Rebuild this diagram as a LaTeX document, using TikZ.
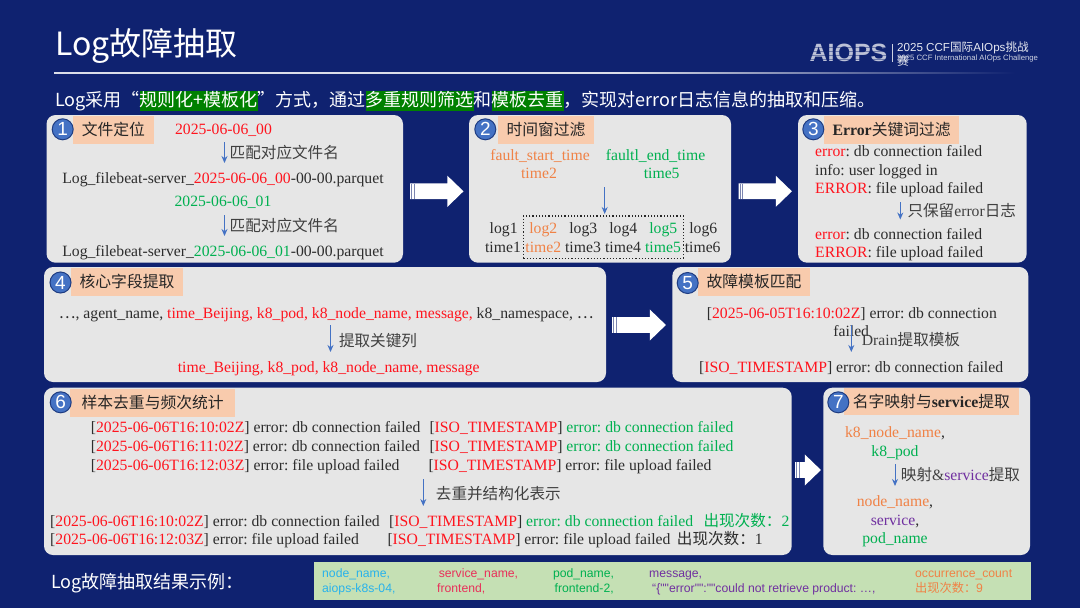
\documentclass[tikz,border=0pt]{standalone}
\usepackage{fontspec}
\setmainfont{Liberation Serif}
\newfontfamily\cjk{Noto Sans CJK SC}
\newfontfamily\uisans{Liberation Sans}
\usetikzlibrary{shapes.arrows,calc,arrows.meta}
\definecolor{bgblue}{RGB}{15,34,112}
\definecolor{panelgray}{RGB}{230,230,230}
\definecolor{tagorange}{RGB}{248,203,173}
\definecolor{badgeblue}{RGB}{68,114,196}
\definecolor{badgeline}{RGB}{30,60,130}
\definecolor{hlgreen}{RGB}{0,128,0}
\definecolor{ink}{RGB}{45,45,45}
\definecolor{rd}{RGB}{255,20,30}
\definecolor{gn}{RGB}{0,176,80}
\definecolor{og}{RGB}{240,130,70}
\definecolor{pp}{RGB}{112,48,160}
\definecolor{cy}{RGB}{40,178,235}
\definecolor{cr}{RGB}{232,48,90}
\definecolor{resgreen}{RGB}{197,224,180}
\newcommand\rd[1]{\textcolor{rd}{#1}}
\newcommand\gn[1]{\textcolor{gn}{#1}}
\newcommand\og[1]{\textcolor{og}{#1}}
\newcommand\pp[1]{\textcolor{pp}{#1}}
\newcommand\hlg[1]{\begingroup\fboxsep=0pt\colorbox{hlgreen}{\rule[-4.5pt]{0pt}{20pt}#1}\endgroup}
\tikzset{
  x=1pt,y=-1pt,
  panel/.style={fill=panelgray,rounded corners=9pt,inner sep=0,draw=none},
  tag/.style={fill=tagorange,inner sep=0,text=black!85,font=\fontsize{15.8}{18}\selectfont\cjk},
  badge/.style={circle,fill=badgeblue,draw=badgeline,line width=1pt,minimum size=21pt,inner sep=0,text=white,font=\fontsize{19}{20}\selectfont\uisans},
  txt/.style={inner sep=0,text=ink,font=\fontsize{15.7}{18}\selectfont,text height=11pt,text depth=1pt},
  zh/.style={txt,font=\fontsize{15.6}{18}\selectfont\cjk,text=black!75},
  res/.style={inner sep=0,anchor=west,font=\fontsize{12.2}{14}\selectfont\uisans,text height=10pt,text depth=1pt},
  flow/.style={draw=badgeblue,line width=1pt,-{Stealth[length=7pt,width=6pt]}},
  bigarrow/.style={single arrow,fill=white,inner sep=0,anchor=tail,text height=15.4pt,text depth=0pt,text width=1pt,single arrow head extend=7.7pt,single arrow head indent=0pt,single arrow tip angle=88},
  stripe/.style={draw=bgblue!55!white,line width=.9pt},
  dotbox/.style={draw=black!85,line width=1.2pt,dotted,fill=none,inner sep=0}
}
\begin{document}
\frenchspacing
\begin{tikzpicture}
\path[use as bounding box,fill=bgblue] (0,0) rectangle (1080,608);
% header
\node[inner sep=0,anchor=west,text=white,font=\fontsize{32}{36}\selectfont\cjk] (title) at (55,46) {Log故障抽取};
\fill[white!85!bgblue] (53.5,72.2) rectangle (620,73.6);
\fill[left color=white!85!bgblue,right color=bgblue] (620,72.2) rectangle (1015,73.6);
\node[inner sep=0,text=white!72!bgblue,font=\fontsize{25}{28}\selectfont\uisans\bfseries] (aiops) at (848.5,52.5) {AIOPS};
\foreach \yy in {47.5,51.5,55.5,59.5} {\draw[bgblue,opacity=.45,line width=.8pt] (809,\yy) -- (888,\yy);}
\fill[white!80!bgblue] (891.6,43.5) rectangle (892.6,62);
\node[inner sep=0,anchor=west,text=white!90!bgblue,font=\fontsize{11.6}{14}\selectfont\uisans] (logoa) at (897,47.5) {2025 CCF{\cjk 国际}AIOps{\cjk 挑战}};
\node[inner sep=0,anchor=west,text=white!80!bgblue,font=\fontsize{7.75}{9}\selectfont\uisans] (logob) at (897,58.5) {2025 CCF International AIOps Challenge};
\node[inner sep=0,anchor=west,text=white!90!bgblue,font=\fontsize{11.8}{14}\selectfont\cjk] (logoc) at (897,60.5) {赛};
\node[inner sep=0,anchor=west,text=white,font=\fontsize{18}{20}\selectfont\cjk] (intro) at (55,101) {Log采用“\hlg{规则化+模板化}”方式，通过\hlg{多重规则筛选}和\hlg{模板去重}，实现对error日志信息的抽取和压缩。};

% panels
\node[panel,minimum width=356.5pt,minimum height=147.7pt] (p1) at (224.75,188.85) {};
\node[panel,minimum width=262pt,minimum height=147.7pt] (p2) at (600,188.85) {};
\node[panel,minimum width=228.7pt,minimum height=147.7pt] (p3) at (912.35,188.85) {};
\node[panel,minimum width=562pt,minimum height=115pt] (p4) at (325,324.5) {};
\node[panel,minimum width=356pt,minimum height=115pt] (p5) at (850.3,324.5) {};
\node[panel,minimum width=747.7pt,minimum height=167.3pt] (p6) at (417.85,471.35) {};
\node[panel,minimum width=206.7pt,minimum height=167.3pt] (p7) at (926.65,471.35) {};

% big arrows
\node[bigarrow,minimum height=53.3pt] (a12) at (410,191.3) {};
\node[bigarrow,minimum height=53.4pt] (a23) at (738.3,191.3) {};
\node[bigarrow,minimum height=53.7pt] (a45) at (612,325) {};
\node[bigarrow,minimum height=25.7pt] (a67) at (795,470) {};
\foreach \a in {a12,a23,a45,a67} {
  \draw[stripe] ($(\a.tail)+(1.9,-7.7)$) -- ($(\a.tail)+(1.9,7.7)$);
  \draw[stripe] ($(\a.tail)+(4.6,-7.7)$) -- ($(\a.tail)+(4.6,7.7)$);
}

% tags + badges
\node[tag,minimum width=80.7pt,minimum height=27.7pt] (t1) at (113.35,129.85) {文件定位};
\node[badge] (b1) at (62.7,129.3) {1};
\node[tag,minimum width=96pt,minimum height=27.7pt] (t2) at (546,129.85) {时间窗过滤};
\node[badge] (b2) at (485.3,129.3) {2};
\node[tag,minimum width=135.3pt,minimum height=27.7pt] (t3) at (891.65,129.85) {{\fontsize{15.8}{18}\selectfont\rmfamily\bfseries Error}关键词过滤};
\node[badge] (b3) at (813.3,129.3) {3};
\node[tag,minimum width=112pt,minimum height=27.7pt] (t4) at (127,281.85) {核心字段提取};
\node[badge] (b4) at (60.5,282.5) {4};
\node[tag,minimum width=112pt,minimum height=27.7pt] (t5) at (754,281.85) {故障模板匹配};
\node[badge] (b5) at (687.7,283) {5};
\node[tag,minimum width=164.7pt,minimum height=27.7pt] (t6) at (152.65,402.85) {样本去重与频次统计};
\node[badge] (b6) at (60.7,402.3) {6};
\node[tag,minimum width=174.7pt,minimum height=27.3pt] (t7) at (931.35,401.65) {名字映射与{\fontsize{15.8}{18}\selectfont\rmfamily\bfseries service}提取};
\node[badge] (b7) at (838.3,402.3) {7};

% panel 1
\node[txt] (d1) at (223.5,129) {\rd{2025-06-06\_00}};
\coordinate (f1s) at (224.5,142); \coordinate (f1e) at (224.5,163);
\draw[flow] (f1s) -- (f1e);
\node[zh,anchor=west] (m1) at (229.5,153) {匹配对应文件名};
\node[txt] (file1) at (223,178) {Log\_filebeat-server\_\rd{2025-06-06\_00}-00-00.parquet};
\node[txt] (d2) at (223,201) {\gn{2025-06-06\_01}};
\coordinate (f2s) at (224.5,215); \coordinate (f2e) at (224.5,236);
\draw[flow] (f2s) -- (f2e);
\node[zh,anchor=west] (m2) at (229.5,226) {匹配对应文件名};
\node[txt] (file2) at (223,251) {Log\_filebeat-server\_\gn{2025-06-06\_01}-00-00.parquet};

% panel 2
\node[txt] (fs) at (540,155) {\og{fault\_start\_time}};
\node[txt] (ts) at (539,173.5) {\og{time2}};
\node[txt] (fe) at (655.5,155) {\gn{faultl\_end\_time}};
\node[txt] (te) at (661.7,173.5) {\gn{time5}};
\coordinate (f3s) at (604.7,187); \coordinate (f3e) at (604.7,214);
\draw[flow] (f3s) -- (f3e);
\node[dotbox,minimum width=160pt,minimum height=42.3pt] (win) at (603.3,237.15) {};
\node[txt] (l1) at (503.7,228) {log1};
\node[txt] (l2) at (543.3,228) {\og{log2}};
\node[txt] (l3) at (583.3,228) {log3};
\node[txt] (l4) at (623.3,228) {log4};
\node[txt] (l5) at (663.3,228) {\gn{log5}};
\node[txt] (l6) at (703.3,228) {log6};
\node[txt] (tt1) at (503,247) {time1};
\node[txt] (tt2) at (543.3,247) {\og{time2}};
\node[txt] (tt3) at (583,247) {time3};
\node[txt] (tt4) at (623,247) {time4};
\node[txt] (tt5) at (663,247) {\gn{time5}};
\node[txt] (tt6) at (702.7,247) {time6};

% panel 3
\node[txt,anchor=west] (e1) at (815,151) {\rd{error}: db connection failed};
\node[txt,anchor=west] (e2) at (815,170) {info: user logged in};
\node[txt,anchor=west] (e3) at (815,188.5) {\rd{ERROR}: file upload failed};
\coordinate (f4s) at (900.3,202); \coordinate (f4e) at (900.3,219.5);
\draw[flow] (f4s) -- (f4e);
\node[zh,anchor=west] (m3) at (907.3,211) {只保留{\fontsize{15.7}{18}\selectfont\rmfamily error}日志};
\node[txt,anchor=west] (e4) at (815,234) {\rd{error}: db connection failed};
\node[txt,anchor=west] (e5) at (815,252.5) {\rd{ERROR}: file upload failed};

% panel 4
\node[txt] (c1) at (326.3,313) {{\cjk …}, agent\_name, \rd{time\_Beijing, k8\_pod, k8\_node\_name, message,} k8\_namespace, {\cjk …}};
\coordinate (f5s) at (330.5,325.3); \coordinate (f5e) at (330.5,352);
\draw[flow] (f5s) -- (f5e);
\node[zh,anchor=west] (m4) at (338.8,341) {提取关键列};
\node[txt] (c2) at (328.7,367) {\rd{time\_Beijing, k8\_pod, k8\_node\_name, message}};

% panel 5
\node[txt,anchor=west] (g1) at (706.7,313) {[\rd{2025-06-05T16:10:02Z}] error: db connection};
\node[txt] (g2) at (851.2,331) {failed};
\coordinate (f6s) at (851.3,325); \coordinate (f6e) at (851.3,352);
\draw[flow] (f6s) -- (f6e);
\node[zh,anchor=west] (m5) at (861.7,340) {{\fontsize{15.7}{18}\selectfont\rmfamily Drain}提取模板};
\node[txt,anchor=west] (g3) at (699,367) {[\rd{ISO\_TIMESTAMP}] error: db connection failed};

% panel 6
\node[txt,anchor=west] (s1) at (90.7,427.7) {[\rd{2025-06-06T16:10:02Z}] error: db connection failed};
\node[txt,anchor=west] (s1b) at (429.3,427.7) {[\rd{ISO\_TIMESTAMP}] \gn{error: db connection failed}};
\node[txt,anchor=west] (s2) at (90.7,446.7) {[\rd{2025-06-06T16:11:02Z}] error: db connection failed};
\node[txt,anchor=west] (s2b) at (429.3,446.7) {[\rd{ISO\_TIMESTAMP}] \gn{error: db connection failed}};
\node[txt,anchor=west] (s3) at (90.7,465) {[\rd{2025-06-06T16:12:03Z}] error: file upload failed};
\node[txt,anchor=west] (s3b) at (428.3,465) {[\rd{ISO\_TIMESTAMP}] error: file upload failed};
\coordinate (f7s) at (423.3,479); \coordinate (f7e) at (423.3,506);
\draw[flow] (f7s) -- (f7e);
\node[zh,anchor=west] (m6) at (435.7,494) {去重并结构化表示};
\node[txt,anchor=west] (r1) at (50,521) {[\rd{2025-06-06T16:10:02Z}] error: db connection failed};
\node[txt,anchor=west] (r1b) at (389,521) {[\rd{ISO\_TIMESTAMP}] \gn{error: db connection failed}};
\node[zh,anchor=west,text=gn] (r1c) at (703.3,521) {出现次数：{\fontsize{15.7}{18}\selectfont\rmfamily 2}};
\node[txt,anchor=west] (r2) at (50,539.3) {[\rd{2025-06-06T16:12:03Z}] error: file upload failed};
\node[txt,anchor=west] (r2b) at (387.3,539.3) {[\rd{ISO\_TIMESTAMP}] error: file upload failed};
\node[zh,anchor=west,text=ink] (r2c) at (676.7,539.3) {出现次数：{\fontsize{15.7}{18}\selectfont\rmfamily 1}};

% panel 7
\node[txt] (n1) at (895,432.7) {\og{k8\_node\_name},};
\node[txt] (n2) at (895,451) {\gn{k8\_pod}};
\coordinate (f8s) at (895,464.3); \coordinate (f8e) at (895,486);
\draw[flow] (f8s) -- (f8e);
\node[zh,anchor=west] (m7) at (900.7,475) {映射{\fontsize{15.7}{18}\selectfont\rmfamily \&\pp{service}}提取};
\node[txt] (n3) at (895,501) {\og{node\_name},};
\node[txt] (n4) at (895,520) {\pp{service},};
\node[txt] (n5) at (895,538) {\gn{pod\_name}};

% bottom
\node[inner sep=0,anchor=west,text=white,font=\fontsize{18}{20}\selectfont\cjk] (rl) at (51,583) {Log故障抽取结果示例：};
\node[fill=resgreen,inner sep=0,minimum width=717.5pt,minimum height=38.3pt] (rb) at (672.65,580.85) {};
\node[res,text=cy] (x1) at (322,573.3) {node\_name,};
\node[res,text=cy] (x2) at (322,588.3) {aiops-k8s-04,};
\node[res,text=cr] (x3) at (438.6,573.3) {service\_name,};
\node[res,text=cr] (x4) at (437,588.3) {frontend,};
\node[res,text=gn] (x5) at (552.8,573.3) {pod\_name,};
\node[res,text=gn] (x6) at (554.5,588.3) {frontend-2,};
\node[res,text=pp] (x7) at (649,573.3) {message,};
\node[res,text=pp] (x8) at (652,588.3) {“\{""error"":""could not retrieve product: …,};
\node[res,text=og] (x9) at (915,573.3) {occurrence\_count};
\node[res,text=og] (x10) at (915,588.3) {{\cjk 出现次数：}9};
\end{tikzpicture}
\end{document}
